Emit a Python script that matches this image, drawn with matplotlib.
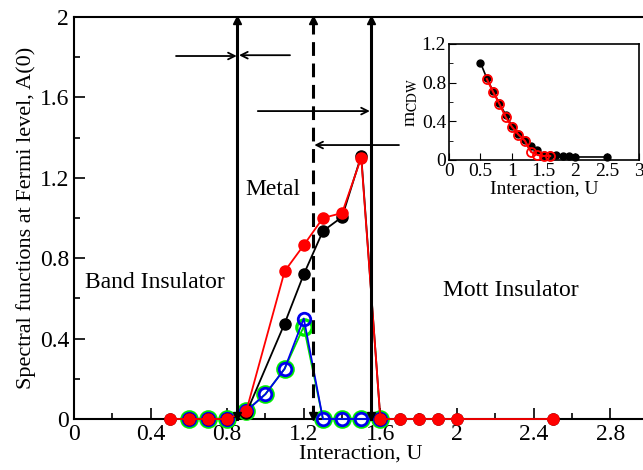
import matplotlib
matplotlib.use("Agg")
import matplotlib.pyplot as plt
from matplotlib.ticker import MultipleLocator

plt.rcParams['font.family'] = ['Liberation Serif', 'DejaVu Serif']
plt.rcParams['mathtext.fontset'] = 'stix'

# ---- main data ----
u_red = [0.5, 0.6, 0.7, 0.8, 0.9, 1.1, 1.2, 1.3, 1.4, 1.5, 1.6, 1.7, 1.8, 1.9, 2.0, 2.5]
a_red = [0, 0, 0, 0, 0.04, 0.735, 0.865, 1.0, 1.025, 1.30, 0, 0, 0, 0, 0, 0]
u_black = [0.5, 0.6, 0.7, 0.8, 0.9, 1.1, 1.2, 1.3, 1.4, 1.5, 1.6, 1.7, 1.8, 1.9, 2.0, 2.5]
a_black = [0, 0, 0, 0, 0.03, 0.475, 0.72, 0.935, 1.005, 1.31, 0, 0, 0, 0, 0, 0]
u_blue = [0.6, 0.7, 0.8, 0.9, 1.0, 1.1, 1.2, 1.3, 1.4, 1.5, 1.6]
a_blue = [0, 0, 0, 0.04, 0.124, 0.25, 0.50, 0, 0, 0, 0]
u_green = [0.6, 0.7, 0.8, 0.9, 1.0, 1.1, 1.2, 1.3, 1.4, 1.5, 1.6]
a_green = [0, 0, 0, 0.04, 0.124, 0.25, 0.46, 0, 0, 0, 0]

# phase boundaries
u_bounds = [0.85, 1.25, 1.55]
bound_styles = ['-', '--', '-']

# ---- inset data ----
u_in_black = [0.5, 0.6, 0.7, 0.8, 0.9, 1.0, 1.1, 1.2, 1.3, 1.4, 1.5, 1.6, 1.7, 1.8, 1.9, 2.0, 2.5]
m_in_black = [1.006, 0.845, 0.71, 0.585, 0.465, 0.35, 0.27, 0.205, 0.141, 0.103, 0.055, 0.052, 0.052, 0.041, 0.041, 0.031, 0.031]
u_in_red = [0.6, 0.7, 0.8, 0.9, 1.0, 1.1, 1.2, 1.3, 1.4, 1.5, 1.6]
m_in_red = [0.838, 0.703, 0.579, 0.441, 0.341, 0.262, 0.2, 0.083, 0.052, 0.041, 0.041]

fig = plt.figure(figsize=(6.43, 4.70), dpi=100)
ax = fig.add_axes([0.115, 0.1085, 0.8936, 0.8553])

ax.plot(u_green, a_green, '-', color='#00dd00', lw=1.3, marker='o', ms=11,
        mfc='none', mec='#00ee00', mew=2.4, clip_on=False, zorder=3)
ax.plot(u_blue, a_blue, '-', color='#0000ee', lw=1.3, marker='o', ms=9,
        mfc='none', mec='#0000ee', mew=2.0, clip_on=False, zorder=4)
ax.plot(u_black, a_black, '-', color='black', lw=1.3, marker='o', ms=8,
        mfc='black', mec='black', clip_on=False, zorder=5)
ax.plot(u_red, a_red, '-', color='#ff0000', lw=1.3, marker='o', ms=8,
        mfc='#ff0000', mec='#ff0000', clip_on=False, zorder=6)

for ub, ls in zip(u_bounds, bound_styles):
    if ls == '--':
        ax.plot([ub, ub], [0, 1.985], color='black', lw=2.2, ls=(0, (4.5, 2.5)), zorder=7, clip_on=False)
    else:
        ax.plot([ub, ub], [0, 1.985], color='black', lw=2.2, ls='-', zorder=7, clip_on=False)
    ax.plot([ub], [1.985], marker='^', ms=6, color='black', clip_on=False, zorder=8)
    ax.plot([ub], [0.015], marker='v', ms=6, color='black', clip_on=False, zorder=8)

arrow_kw = dict(arrowstyle='->', lw=1.3, color='black', shrinkA=0, shrinkB=0,
                mutation_scale=12)
ax.annotate('', xy=(0.85, 1.806), xytext=(0.533, 1.806), arrowprops=arrow_kw)
ax.annotate('', xy=(0.862, 1.81), xytext=(1.128, 1.81), arrowprops=arrow_kw)
ax.annotate('', xy=(1.545, 1.532), xytext=(0.96, 1.532), arrowprops=arrow_kw)
ax.annotate('', xy=(1.255, 1.363), xytext=(1.697, 1.363), arrowprops=arrow_kw)

ax.text(1.04, 1.14, 'Metal', fontsize=17, ha='center', va='center')
ax.text(0.42, 0.677, 'Band Insulator', fontsize=17, ha='center', va='center')
ax.text(2.28, 0.64, 'Mott Insulator', fontsize=17, ha='center', va='center')

ax.set_xlim(0, 3)
ax.set_ylim(0, 2)
ax.xaxis.set_major_locator(MultipleLocator(0.4))
ax.xaxis.set_minor_locator(MultipleLocator(0.2))
ax.yaxis.set_major_locator(MultipleLocator(0.4))
ax.yaxis.set_minor_locator(MultipleLocator(0.2))
ax.set_xticks([0, 0.4, 0.8, 1.2, 1.6, 2.0, 2.4, 2.8])
ax.set_xticklabels(['0', '0.4', '0.8', '1.2', '1.6', '2', '2.4', '2.8'])
ax.set_yticks([0, 0.4, 0.8, 1.2, 1.6, 2.0])
ax.set_yticklabels(['0', '0.4', '0.8', '1.2', '1.6', '2'])
ax.tick_params(which='both', direction='in', top=False, right=False, labelsize=17, width=1.2)
ax.tick_params(which='major', length=8)
ax.tick_params(which='minor', length=4)
for s in ax.spines.values():
    s.set_linewidth(1.5)
ax.set_xlabel('Interaction, U', fontsize=16, labelpad=0)
ax.set_ylabel('Spectral functions at Fermi level, A(0)', fontsize=16, labelpad=3)

# inset
ins = fig.add_axes([0.698, 0.6596, 0.2955, 0.2468])
ins.plot(u_in_black, m_in_black, '-', color='black', lw=1.2, marker='o', ms=5,
         mfc='black', mec='black', zorder=3, clip_on=False)
ins.plot(u_in_red, m_in_red, '-', color='#ff0000', lw=1.5, marker='o', ms=6.5,
         mfc='none', mec='#ff0000', mew=1.3, zorder=4, clip_on=False)
ins.set_xlim(0, 3)
ins.set_ylim(0, 1.2)
ins.set_xticks([0, 0.5, 1, 1.5, 2, 2.5, 3])
ins.set_xticklabels(['0', '0.5', '1', '1.5', '2', '2.5', '3'])
ins.set_yticks([0, 0.4, 0.8, 1.2])
ins.set_yticklabels(['0', '0.4', '0.8', '1.2'])
ins.yaxis.set_minor_locator(MultipleLocator(0.2))
ins.tick_params(which='both', direction='in', top=False, right=False, labelsize=14, pad=2)
ins.tick_params(which='major', length=5)
ins.tick_params(which='minor', length=3)
for s in ins.spines.values():
    s.set_linewidth(1.2)
ins.set_xlabel('Interaction, U', fontsize=14, labelpad=0.5)
ins.set_ylabel(r'm$_{\mathrm{CDW}}$', fontsize=14, labelpad=1)

fig.savefig('out.png', dpi=100)
